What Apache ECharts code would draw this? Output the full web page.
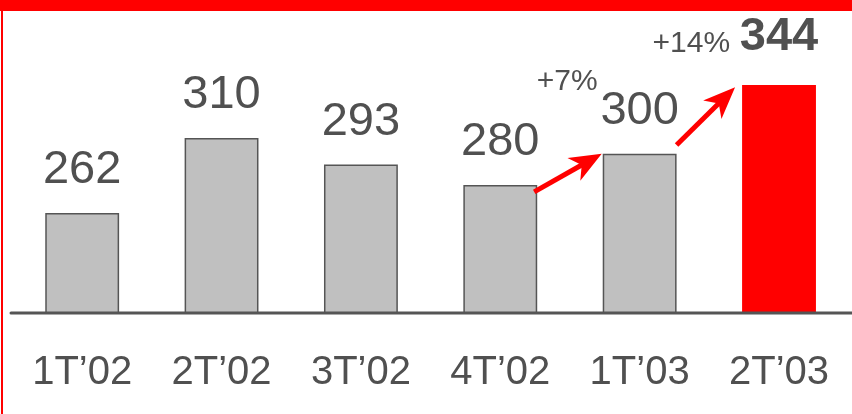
<!DOCTYPE html>
<html>
<head>
<meta charset="utf-8">
<script src="https://cdn.jsdelivr.net/npm/echarts@6/dist/echarts.min.js"></script>
<style>html,body{margin:0;padding:0;background:#fff;}#c{width:852px;height:414px;}</style>
</head>
<body>
<div id="c"></div>
<script>
const categories = ["1T\u201902", "2T\u201902", "3T\u201902", "4T\u201902", "1T\u201903", "2T\u201903"];
const values = [262, 310, 293, 280, 300, 344];
const growthLabels = ["+7%", "+14%"];
const growthIndex = [4, 5];
// arrows: from (category index, value) to (category index, value)
const arrowFrom = [[3, 275.5], [4, 305.5]];
const arrowTo = [[4, 300], [5, 342.5]];

const FONT = "'Liberation Sans', Arial, sans-serif";
const GREY = '#505050';
const chart = echarts.init(document.getElementById('c'));
const BARW = 0.53;

chart.setOption({
  animation: false,
  backgroundColor: '#fff',
  grid: { left: 12.5, right: 3.3, top: 13, bottom: 101, containLabel: false },
  xAxis: {
    type: 'category', data: categories,
    axisLine: { show: false },
    axisTick: { show: false },
    axisLabel: { color: GREY, fontSize: 40, fontFamily: FONT, margin: 40 }
  },
  yAxis: { type: 'value', min: 198, max: 390, show: false, splitLine: { show: false } },
  series: [{
    type: 'bar',
    barWidth: (BARW * 100) + '%',
    data: values.map((v, i) => i === values.length - 1 ? {
      value: v,
      itemStyle: { color: '#ff0000', borderWidth: 0 },
      label: { fontWeight: 'bold', distance: 24 }
    } : v),
    itemStyle: { color: '#c0c0c0', borderColor: '#555', borderWidth: 1.5 },
    label: { show: true, position: 'top', distance: 19, color: GREY, fontSize: 47, fontFamily: FONT }
  }]
});

function px(idx, val) { return chart.convertToPixel({ xAxisIndex: 0, yAxisIndex: 0 }, [idx, val]); }
const step = px(1, 300)[0] - px(0, 300)[0];
const half = step * BARW / 2;
const baseY = px(0, 198)[1];

const graphics = [
  { type: 'rect', shape: { x: 0, y: 0, width: 852, height: 11 }, style: { fill: '#ff0000' }, z: 10 },
  { type: 'rect', shape: { x: 1, y: 0, width: 2, height: 414 }, style: { fill: '#ff0000' }, z: 10 },
  { type: 'line', shape: { x1: 11, y1: baseY, x2: 852, y2: baseY }, style: { stroke: '#555', lineWidth: 3, lineCap: 'round' }, z: 12 }
];

// growth labels
growthIndex.forEach((gi, k) => {
  const top = px(gi, values[gi]);
  if (k === 0) {
    graphics.push({ type: 'text', x: top[0] - 72.5, y: top[1] - 72, z: 20,
      style: { text: growthLabels[k], fill: GREY, font: '30px ' + FONT, align: 'center', verticalAlign: 'middle' } });
  } else {
    graphics.push({ type: 'text', x: top[0] - half - 12, y: top[1] - 41, z: 20,
      style: { text: growthLabels[k], fill: GREY, font: '30px ' + FONT, align: 'right', verticalAlign: 'middle' } });
  }
});

// arrows
const xOff = [[half - 3, -half - 1], [half, -half - 7]];
arrowFrom.forEach((f, k) => {
  const a = px(f[0], f[1]); a[0] += xOff[k][0];
  const b = px(arrowTo[k][0], arrowTo[k][1]); b[0] += xOff[k][1];
  const dx = b[0] - a[0], dy = b[1] - a[1];
  const len = Math.sqrt(dx * dx + dy * dy);
  const ux = dx / len, uy = dy / len, nx = -uy, ny = ux;
  const L = 32, W = 13, N = 9;
  const back = [b[0] - ux * (L - N), b[1] - uy * (L - N)];
  graphics.push({ type: 'line', z: 15, shape: { x1: a[0], y1: a[1], x2: back[0] + ux * 2, y2: back[1] + uy * 2 },
    style: { stroke: '#ff0000', lineWidth: 5 } });
  graphics.push({ type: 'polygon', z: 15, shape: { points: [
    [b[0], b[1]],
    [b[0] - ux * L + nx * W, b[1] - uy * L + ny * W],
    [back[0], back[1]],
    [b[0] - ux * L - nx * W, b[1] - uy * L - ny * W]
  ] }, style: { fill: '#ff0000' } });
});

chart.setOption({ graphic: graphics });
</script>
</body>
</html>
